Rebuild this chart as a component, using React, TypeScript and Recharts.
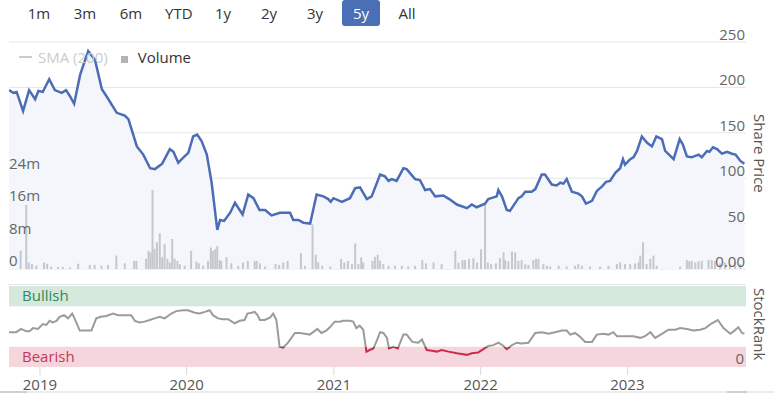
import React from 'react';
import {
  ComposedChart,
  LineChart,
  Area,
  Bar,
  Line,
  XAxis,
  YAxis,
  CartesianGrid,
  ReferenceArea,
} from 'recharts';

const RANGE_BUTTONS = ['1m', '3m', '6m', 'YTD', '1y', '2y', '3y', '5y', 'All'];
const ACTIVE_RANGE = '5y';

const X_START = '2018-10-16';
const X_END = '2023-10-23';
const YEAR_TICKS = ['2019-01-01', '2020-01-01', '2021-01-01', '2022-01-01', '2023-01-01'];

const PRICE_TICKS = [0, 50, 100, 150, 200, 250];
const VOLUME_TICKS = [0, 8, 16, 24];
const RANK_TICKS = [0];
const BEARISH_MAX = 25;
const BULLISH_MIN = 75;

// share price, one line per year
const priceDates = [
  '2018-10-16', '2018-10-27', '2018-11-04', '2018-11-20', '2018-12-05', '2018-12-20', '2018-12-28',
  '2019-01-08', '2019-01-24', '2019-02-07', '2019-02-24', '2019-03-07', '2019-03-17', '2019-03-27', '2019-04-11', '2019-05-01', '2019-05-18', '2019-06-04', '2019-06-16', '2019-07-11', '2019-07-31', '2019-08-09', '2019-08-30', '2019-09-15', '2019-10-02', '2019-10-14', '2019-11-01', '2019-11-20', '2019-11-29', '2019-12-11', '2019-12-22',
  '2020-01-05', '2020-01-17', '2020-01-27', '2020-02-07', '2020-02-20', '2020-03-03', '2020-03-17', '2020-03-24', '2020-04-03', '2020-04-18', '2020-04-30', '2020-05-19', '2020-06-02', '2020-06-15', '2020-06-30', '2020-07-14', '2020-07-30', '2020-08-20', '2020-09-04', '2020-09-14', '2020-09-22', '2020-10-05', '2020-10-17', '2020-11-03', '2020-11-19', '2020-12-06', '2020-12-18', '2020-12-24', '2020-12-31',
  '2021-01-21', '2021-02-10', '2021-02-23', '2021-03-07', '2021-03-24', '2021-04-05', '2021-04-26', '2021-05-08', '2021-05-17', '2021-05-25', '2021-06-06', '2021-06-23', '2021-07-01', '2021-07-22', '2021-08-03', '2021-08-16', '2021-08-28', '2021-09-10', '2021-09-30', '2021-10-15', '2021-11-03', '2021-11-28', '2021-12-10', '2021-12-22',
  '2022-01-12', '2022-01-20', '2022-02-10', '2022-02-14', '2022-02-23', '2022-03-07', '2022-03-15', '2022-04-05', '2022-04-13', '2022-04-22', '2022-05-08', '2022-05-17', '2022-06-02', '2022-06-10', '2022-06-27', '2022-07-09', '2022-07-18', '2022-07-26', '2022-08-03', '2022-08-16', '2022-09-01', '2022-09-10', '2022-09-20', '2022-10-05', '2022-10-17', '2022-10-30', '2022-11-09', '2022-11-19', '2022-12-02', '2022-12-14', '2022-12-21', '2022-12-26',
  '2023-01-08', '2023-01-16', '2023-01-25', '2023-02-06', '2023-02-19', '2023-03-03', '2023-03-14', '2023-03-28', '2023-04-05', '2023-04-26', '2023-05-11', '2023-05-19', '2023-05-29', '2023-06-10', '2023-06-27', '2023-07-05', '2023-07-18', '2023-07-24', '2023-08-02', '2023-08-12', '2023-08-24', '2023-09-06', '2023-09-18', '2023-09-27', '2023-10-09', '2023-10-19',
];
const priceValues = [
  197, 194, 195, 174, 197, 187, 196,
  195, 209, 197, 194, 197, 190, 182, 214, 240, 230, 198, 190, 172, 169, 165, 135, 126, 111, 110, 116, 132, 129, 117, 122,
  128, 146, 148, 141, 126, 95, 43, 54, 53, 62, 73, 60, 82, 78, 65, 65, 59, 62, 62, 62, 54, 54, 51, 50, 82, 80, 77, 74, 78,
  74, 78, 89, 90, 77, 80, 104, 102, 97, 99, 97, 111, 110, 99, 98, 87, 88, 80, 81, 77, 71, 67, 71, 68,
  72, 77, 80, 87, 80, 65, 64, 78, 80, 85, 85, 88, 104, 104, 93, 92, 95, 94, 99, 85, 83, 80, 72, 75, 86, 91, 96, 97, 106, 111, 121, 115,
  121, 123, 130, 146, 139, 135, 146, 143, 130, 121, 143, 137, 124, 123, 126, 123, 130, 129, 134, 132, 127, 129, 127, 126, 119, 116,
];

// traded volume in millions of shares
const volumeDates = [
  '2018-11-14', '2018-11-28', '2018-12-04', '2018-12-12', '2018-12-23',
  '2019-01-11', '2019-01-19', '2019-01-29', '2019-02-15', '2019-02-27', '2019-03-17', '2019-04-06', '2019-05-05', '2019-05-17', '2019-06-03', '2019-06-19', '2019-07-10', '2019-07-31', '2019-08-23', '2019-08-29', '2019-09-22', '2019-09-28', '2019-10-03', '2019-10-08', '2019-10-13', '2019-10-19', '2019-10-26', '2019-11-01', '2019-11-07', '2019-11-14', '2019-11-20', '2019-11-26', '2019-12-02', '2019-12-09', '2019-12-15', '2019-12-27',
  '2020-01-12', '2020-01-25', '2020-01-31', '2020-02-11', '2020-02-23', '2020-03-01', '2020-03-06', '2020-03-12', '2020-03-17', '2020-03-23', '2020-03-27', '2020-04-09', '2020-04-21', '2020-05-08', '2020-05-20', '2020-06-01', '2020-06-18', '2020-06-23', '2020-07-01', '2020-07-14', '2020-08-09', '2020-08-18', '2020-08-28', '2020-09-08', '2020-10-11', '2020-10-21', '2020-11-09', '2020-11-17', '2020-11-23', '2020-12-03', '2020-12-23',
  '2021-01-19', '2021-01-27', '2021-02-05', '2021-02-15', '2021-02-23', '2021-03-03', '2021-03-10', '2021-03-15', '2021-04-07', '2021-04-13', '2021-04-20', '2021-04-26', '2021-05-04', '2021-05-17', '2021-06-02', '2021-06-19', '2021-07-05', '2021-07-22', '2021-08-09', '2021-08-18', '2021-09-06', '2021-09-26', '2021-10-30', '2021-11-07', '2021-11-17', '2021-11-23', '2021-12-03', '2021-12-14', '2021-12-23',
  '2022-01-02', '2022-01-12', '2022-01-19', '2022-01-27', '2022-02-08', '2022-02-18', '2022-02-27', '2022-03-03', '2022-03-11', '2022-03-20', '2022-03-28', '2022-04-05', '2022-04-13', '2022-04-22', '2022-04-30', '2022-05-12', '2022-05-19', '2022-05-25', '2022-06-06', '2022-06-15', '2022-06-23', '2022-07-14', '2022-08-03', '2022-08-24', '2022-09-01', '2022-09-10', '2022-09-30', '2022-10-25', '2022-11-15', '2022-12-06', '2022-12-14', '2022-12-26',
  '2023-01-08', '2023-01-20', '2023-01-29', '2023-02-02', '2023-02-09', '2023-02-18', '2023-02-27', '2023-03-07', '2023-03-15', '2023-05-12', '2023-05-29', '2023-06-04', '2023-06-10', '2023-06-19', '2023-06-27', '2023-07-05', '2023-07-22', '2023-07-30', '2023-08-07', '2023-08-20', '2023-09-01', '2023-09-13', '2023-09-26', '2023-10-09',
];
const volumeValues = [
  4.5, 15.8, 1.6, 1.2, 0.8,
  1.6, 1.3, 0.6, 0.5, 0.5, 0.4, 1.3, 1.0, 1.0, 0.8, 1.0, 3.3, 1.4, 2.0, 2.0, 2.5, 4.5, 4.1, 19.5, 5.0, 6.6, 8.8, 2.9, 6.2, 2.5, 1.6, 7.4, 2.5, 2.0, 1.2, 0.8,
  4.5, 1.8, 1.4, 0.8, 2.0, 5.3, 4.5, 4.9, 5.7, 2.2, 2.0, 2.9, 1.4, 0.8, 1.6, 2.0, 1.9, 2.0, 1.4, 0.6, 1.2, 1.0, 1.6, 2.0, 3.9, 0.8, 11.0, 3.5, 1.6, 0.8, 0.6,
  2.5, 1.6, 2.0, 1.2, 6.3, 1.2, 2.9, 1.6, 2.0, 3.0, 3.5, 2.0, 1.2, 0.8, 0.8, 0.8, 0.6, 0.8, 2.2, 1.4, 1.6, 1.2, 4.5, 1.6, 2.2, 2.2, 2.5, 2.7, 1.6,
  4.9, 16.0, 1.6, 1.2, 1.4, 2.7, 4.1, 2.2, 1.9, 4.3, 4.1, 2.0, 2.2, 1.2, 1.0, 2.2, 2.5, 2.5, 1.2, 0.8, 0.6, 0.8, 0.6, 0.8, 1.2, 0.8, 0.6, 0.6, 0.8, 1.2, 1.6, 1.2,
  1.2, 1.4, 1.6, 3.3, 6.6, 1.2, 2.5, 3.3, 0.8, 0.6, 2.2, 1.9, 2.0, 1.6, 1.9, 2.0, 2.2, 2.2, 2.0, 1.4, 1.6, 1.2, 1.6, 1.2,
];

// StockRank, 0-100
const rankDates = [
  '2018-10-16', '2018-11-03', '2018-11-15', '2018-11-28', '2018-12-06', '2018-12-15', '2018-12-27',
  '2019-01-08', '2019-01-17', '2019-01-25', '2019-02-02', '2019-02-11', '2019-02-19', '2019-03-02', '2019-03-12', '2019-03-22', '2019-03-28', '2019-04-10', '2019-04-26', '2019-05-09', '2019-05-21', '2019-06-01', '2019-06-15', '2019-07-02', '2019-07-14', '2019-08-01', '2019-08-16', '2019-08-25', '2019-09-06', '2019-09-18', '2019-10-01', '2019-10-13', '2019-10-26', '2019-11-07', '2019-11-24', '2019-12-06', '2019-12-23',
  '2020-01-04', '2020-01-21', '2020-02-02', '2020-02-15', '2020-02-27', '2020-03-06', '2020-03-19', '2020-03-31', '2020-04-13', '2020-04-29', '2020-05-12', '2020-05-24', '2020-05-31', '2020-06-10', '2020-06-18', '2020-06-25', '2020-07-01', '2020-07-13', '2020-07-26', '2020-08-03', '2020-08-11', '2020-08-19', '2020-08-28', '2020-09-09', '2020-09-26', '2020-10-08', '2020-10-21', '2020-11-02', '2020-11-13', '2020-11-21', '2020-12-01', '2020-12-13', '2020-12-22',
  '2021-01-03', '2021-01-16', '2021-01-24', '2021-02-10', '2021-02-18', '2021-02-26', '2021-03-06', '2021-03-15', '2021-03-23', '2021-03-31', '2021-04-09', '2021-04-13', '2021-04-19', '2021-04-26', '2021-05-04', '2021-05-13', '2021-05-18', '2021-05-29', '2021-06-09', '2021-06-23', '2021-07-01', '2021-07-15', '2021-07-30', '2021-08-08', '2021-08-20', '2021-09-02', '2021-09-14', '2021-09-26', '2021-10-13', '2021-11-03', '2021-11-15', '2021-11-28', '2021-12-10', '2021-12-26',
  '2022-01-08', '2022-01-20', '2022-02-02', '2022-02-14', '2022-02-27', '2022-03-07', '2022-03-20', '2022-04-01', '2022-04-13', '2022-04-30', '2022-05-17', '2022-06-02', '2022-06-19', '2022-07-05', '2022-07-22', '2022-08-03', '2022-08-12', '2022-08-24', '2022-09-06', '2022-09-18', '2022-10-05', '2022-10-17', '2022-11-02', '2022-11-15', '2022-11-27', '2022-12-06', '2022-12-22',
  '2023-01-16', '2023-02-02', '2023-02-14', '2023-02-27', '2023-03-11', '2023-03-28', '2023-04-13', '2023-04-30', '2023-05-12', '2023-05-29', '2023-06-14', '2023-07-01', '2023-07-14', '2023-07-30', '2023-08-14', '2023-08-28', '2023-09-14', '2023-09-22', '2023-10-04', '2023-10-13', '2023-10-19',
];
const rankValues = [
  43, 43, 47, 44, 44, 48, 47,
  53, 52, 57, 55, 57, 62, 64, 60, 66, 60, 45, 45, 45, 60, 62, 63, 66, 64, 64, 64, 57, 55, 56, 58, 60, 62, 60, 66, 69, 70,
  70, 67, 66, 68, 70, 64, 60, 59, 59, 54, 57, 58, 66, 67, 68, 64, 58, 58, 61, 66, 58, 25, 24, 30, 42, 42, 41, 40, 44, 47, 42, 45, 49,
  56, 56, 57, 57, 56, 48, 51, 46, 19, 21, 23, 27, 34, 43, 42, 36, 23, 25, 23, 40, 40, 31, 30, 34, 21, 20, 19, 21, 19, 17, 16, 15, 17, 18,
  22, 26, 27, 30, 26, 22, 27, 30, 29, 30, 42, 43, 41, 43, 45, 45, 40, 42, 37, 31, 31, 40, 41, 40, 43, 38, 38,
  38, 36, 38, 43, 36, 41, 46, 46, 48, 47, 45, 46, 48, 54, 58, 48, 41, 44, 49, 42, 41,
];

const ts = (d: string) => Date.parse(d + 'T00:00:00Z');
const X_DOMAIN = [ts(X_START), ts(X_END)];

// one row per date, price and volume merged
const byDate = new Map<number, { t: number; price?: number; volume?: number }>();
priceDates.forEach((d, i) => {
  const row = byDate.get(ts(d)) ?? { t: ts(d) };
  row.price = priceValues[i];
  byDate.set(ts(d), row);
});
volumeDates.forEach((d, i) => {
  const row = byDate.get(ts(d)) ?? { t: ts(d) };
  row.volume = volumeValues[i];
  byDate.set(ts(d), row);
});
const topData = [...byDate.values()].sort((a, b) => a.t - b.t);

const rankData = rankDates.map((d, i) => ({ t: ts(d), rank: rankValues[i] }));

const rankMax = Math.max(...rankValues);
const rankMin = Math.min(...rankValues);
const rankSplit = (rankMax - BEARISH_MAX) / (rankMax - rankMin);

const FONT = "'Open Sans', sans-serif";
const LABEL_COLOR = '#666';
const VOLUME_COLOR = '#c4c7ce';

const PriceTick = (props: any) => {
  const { x, y, payload } = props;
  return (
    <text x={x - 1} y={y - 2} textAnchor="end" fill={LABEL_COLOR} fontSize={15} fontFamily={FONT}>
      {payload.value === 0 ? '0.00' : payload.value}
    </text>
  );
};

const VolumeTick = (props: any) => {
  const { x, y, payload } = props;
  return (
    <text x={x} y={y - 3} textAnchor="start" fill={LABEL_COLOR} fontSize={15} fontFamily={FONT}>
      {payload.value === 0 ? '0' : `${payload.value}m`}
    </text>
  );
};

const RankTick = (props: any) => {
  const { x, y, payload } = props;
  return (
    <text x={x - 2} y={y - 3} textAnchor="end" fill={LABEL_COLOR} fontSize={15} fontFamily={FONT}>
      {payload.value}
    </text>
  );
};

// fixed 2px column centred on the date, whatever band size recharts picks
const VolumeBar = (props: any) => {
  const { x, y, width, height } = props;
  if (!height || height <= 0) return null;
  return <rect x={x + width / 2 - 1} y={y} width={2} height={height} fill={VOLUME_COLOR} />;
};

function RangeButtons() {
  return (
    <div style={{ position: 'absolute', left: 16, top: 0, display: 'flex' }}>
      {RANGE_BUTTONS.map((b) => (
        <div key={b} style={{ width: 46, height: 26, textAlign: 'center' }}>
          <span
            style={{
              display: 'inline-block',
              lineHeight: '26px',
              padding: '0 11px',
              borderRadius: 3,
              fontSize: 15,
              color: b === ACTIVE_RANGE ? '#fff' : '#333',
              background: b === ACTIVE_RANGE ? '#4a6fb5' : 'transparent',
            }}
          >
            {b}
          </span>
        </div>
      ))}
    </div>
  );
}

function PriceLegend() {
  return (
    <div style={{ position: 'absolute', left: 19, top: 47, display: 'flex', alignItems: 'center', fontSize: 15, lineHeight: '20px' }}>
      <span style={{ width: 13, height: 2, background: '#ccc', display: 'inline-block', marginRight: 6 }} />
      <span style={{ color: '#ccc' }}>SMA (200)</span>
      <span style={{ width: 7, height: 7, background: '#b3b3b3', display: 'inline-block', margin: '5px 10px 0 13px' }} />
      <span style={{ color: '#333' }}>Volume</span>
    </div>
  );
}

const sideLabel = (top: number): React.CSSProperties => ({
  position: 'absolute',
  left: 752,
  top,
  writingMode: 'vertical-rl',
  fontSize: 15,
  lineHeight: '16px',
  color: '#555',
});

export default function App() {
  return (
    <div style={{ position: 'relative', width: 774, height: 393, overflow: 'hidden', background: '#fff', fontFamily: FONT }}>
      <style>{'body{margin:0}'}</style>
      <RangeButtons />

      <div style={{ position: 'absolute', left: 0, top: 0 }}>
        <ComposedChart width={774} height={270} data={topData} margin={{ top: 42, right: 27, bottom: 1, left: 8 }}>
          <CartesianGrid yAxisId="price" vertical={false} stroke="#e6e6e6" />
          <XAxis dataKey="t" type="number" domain={X_DOMAIN} allowDataOverflow hide />
          <YAxis
            yAxisId="price"
            orientation="right"
            domain={[0, 250]}
            ticks={PRICE_TICKS}
            interval={0}
            width={1}
            axisLine={false}
            tickLine={false}
            tickSize={0}
            tickMargin={0}
            tick={<PriceTick />}
          />
          <YAxis
            yAxisId="vol"
            orientation="left"
            domain={[0, 56]}
            ticks={VOLUME_TICKS}
            interval={0}
            width={1}
            axisLine={false}
            tickLine={false}
            tickSize={0}
            tickMargin={0}
            tick={<VolumeTick />}
          />
          <Area
            yAxisId="price"
            dataKey="price"
            type="linear"
            stroke="none"
            fill="#f4f6fb"
            fillOpacity={1}
            connectNulls
            dot={false}
            activeDot={false}
            isAnimationActive={false}
          />
          <Bar yAxisId="vol" dataKey="volume" barSize={2} fill={VOLUME_COLOR} shape={<VolumeBar />} isAnimationActive={false} />
          <Line
            yAxisId="price"
            dataKey="price"
            type="linear"
            stroke="#4a6db5"
            strokeWidth={2.5}
            connectNulls
            dot={false}
            activeDot={false}
            isAnimationActive={false}
          />
        </ComposedChart>
      </div>

      <PriceLegend />
      <div style={sideLabel(114)}>Share Price</div>

      <div style={{ position: 'absolute', left: 8, top: 284, width: 738, height: 1, background: '#e6e6e6' }} />
      <div style={{ position: 'absolute', left: 0, top: 280 }}>
        <LineChart width={774} height={113} data={rankData} margin={{ top: 6, right: 27, bottom: 0, left: 9 }}>
          <defs>
            <linearGradient id="rankStroke" x1="0" y1="0" x2="0" y2="1">
              <stop offset={rankSplit} stopColor="#9b9b9b" />
              <stop offset={rankSplit} stopColor="#cc2b4c" />
            </linearGradient>
          </defs>
          <ReferenceArea
            y1={BULLISH_MIN}
            y2={100}
            fill="#d5e8dc"
            fillOpacity={1}
            stroke="none"
            label={{ value: 'Bullish', position: 'insideLeft', offset: 13, fill: '#2f8a58', fontSize: 15 }}
          />
          <ReferenceArea
            y1={0}
            y2={BEARISH_MAX}
            fill="#f5d6dc"
            fillOpacity={1}
            stroke="none"
            label={{ value: 'Bearish', position: 'insideLeft', offset: 13, fill: '#c9345a', fontSize: 15 }}
          />
          <XAxis
            dataKey="t"
            type="number"
            domain={X_DOMAIN}
            allowDataOverflow
            ticks={YEAR_TICKS.map(ts)}
            tickFormatter={(v: number) => String(new Date(v).getUTCFullYear())}
            height={26}
            axisLine={false}
            tickLine={{ stroke: '#d8d8d8' }}
            tickSize={8}
            tickMargin={4}
            tick={{ fill: '#555', fontSize: 15, fontFamily: FONT }}
          />
          <YAxis
            orientation="right"
            domain={[0, 100]}
            ticks={RANK_TICKS}
            width={1}
            axisLine={false}
            tickLine={false}
            tickSize={0}
            tickMargin={0}
            tick={<RankTick />}
          />
          <Line
            dataKey="rank"
            type="linear"
            stroke="url(#rankStroke)"
            strokeWidth={2}
            dot={false}
            activeDot={false}
            isAnimationActive={false}
          />
        </LineChart>
      </div>
      <div style={sideLabel(288)}>StockRank</div>

      <div style={{ position: 'absolute', left: 0, top: 391, width: 774, height: 2, background: '#ececec' }} />
      <div style={{ position: 'absolute', left: 0, top: 391, width: 27, height: 2, background: '#cfcfcf' }} />
      <div style={{ position: 'absolute', left: 727, top: 391, width: 20, height: 2, background: '#cfcfcf' }} />
    </div>
  );
}
